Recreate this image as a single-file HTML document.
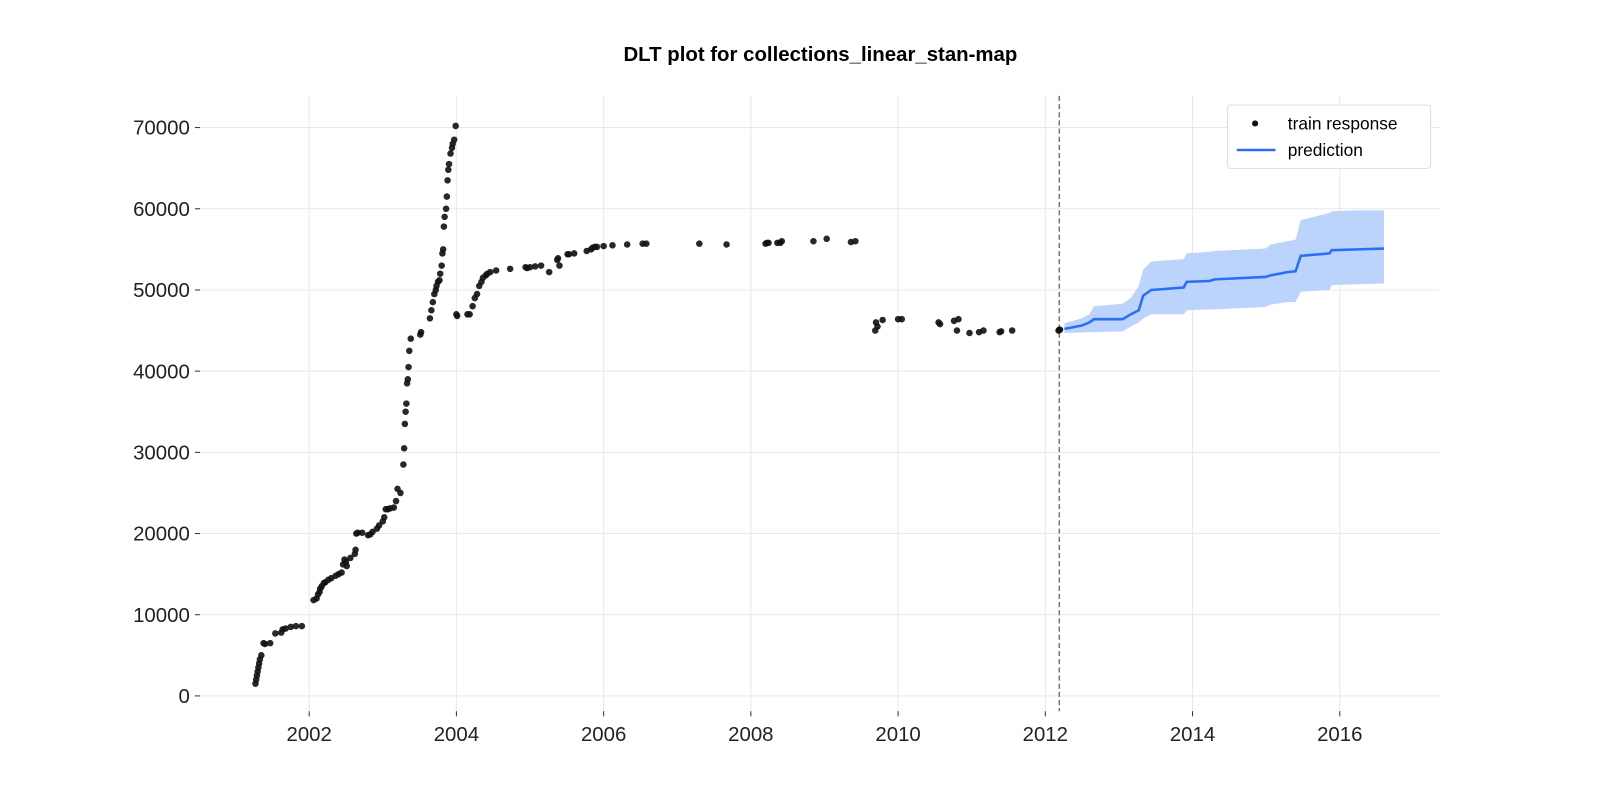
<!DOCTYPE html>
<html><head><meta charset="utf-8"><style>
html,body{margin:0;padding:0;background:#fff;width:1600px;height:800px;overflow:hidden;font-family:"Liberation Sans","DejaVu Sans",sans-serif}
svg{display:block}
</style></head><body>
<svg id="chart" width="1600" height="800" viewBox="0 0 1568 784" xmlns="http://www.w3.org/2000/svg" font-family="Liberation Sans, DejaVu Sans, sans-serif">
<text x="804" y="60" text-anchor="middle" font-size="20" font-weight="bold">DLT plot for collections_linear_stan-map</text>
<g id="grid"></g><g id="band"></g><g id="line"></g><g id="pts"></g><g id="axes"></g>
<g>
<rect x="1203" y="103" width="199" height="62" rx="3" fill="#fff" stroke="#ddd"/>
<circle cx="1230" cy="121" r="3" fill="#111"/>
<text x="1262" y="127" font-size="17">train response</text>
<line x1="1212" y1="147" x2="1250" y2="147" stroke="#2a6ef5" stroke-width="2.5"/>
<text x="1262" y="153" font-size="17">prediction</text>
</g>
</svg>
<script>
const trainYears=[
2001.27,2001.28,2001.29,2001.30,2001.31,2001.32,2001.33,2001.35,2001.38,2001.40,
2001.47,2001.54,2001.62,2001.64,2001.68,2001.75,2001.82,2001.90,2002.06,2002.10,
2002.12,2002.14,2002.15,2002.17,2002.20,2002.22,2002.26,2002.30,2002.36,2002.40,
2002.44,2002.46,2002.48,2002.50,2002.51,2002.56,2002.62,2002.63,2002.64,2002.66,
2002.72,2002.80,2002.83,2002.86,2002.92,2002.95,2003.00,2003.02,2003.04,2003.07,
2003.10,2003.15,2003.18,2003.20,2003.24,2003.28,2003.29,2003.30,2003.31,2003.32,
2003.33,2003.34,2003.35,2003.36,2003.38,2003.51,2003.52,2003.64,2003.66,2003.68,
2003.70,2003.72,2003.73,2003.75,2003.77,2003.78,2003.80,2003.81,2003.82,2003.83,
2003.84,2003.86,2003.87,2003.88,2003.89,2003.90,2003.92,2003.94,2003.95,2003.97,
2003.99,2004.00,2004.01,2004.15,2004.18,2004.22,2004.25,2004.28,2004.31,2004.34,
2004.36,2004.40,2004.42,2004.46,2004.54,2004.73,2004.94,2004.96,2005.00,2005.07,
2005.15,2005.26,2005.37,2005.38,2005.40,2005.51,2005.53,2005.60,2005.77,2005.83,
2005.85,2005.88,2005.91,2006.00,2006.12,2006.32,2006.53,2006.58,2007.30,2007.67,
2008.20,2008.22,2008.24,2008.36,2008.40,2008.42,2008.85,2009.03,2009.36,2009.42,
2009.69,2009.70,2009.72,2009.79,2010.00,2010.05,2010.55,2010.57,2010.76,2010.80,
2010.82,2010.97,2011.10,2011.16,2011.38,2011.40,2011.55,2012.18,2012.19,2012.20];
const trainValues=[
1500,2000,2500,3000,3500,4000,4500,5000,6500,6400,
6500,7700,7800,8200,8300,8500,8600,8600,11800,12000,
12500,12800,13200,13500,13900,14000,14300,14500,14800,15000,
15200,16200,16800,16500,16000,17000,17500,18000,20000,20100,
20100,19800,19900,20200,20600,21000,21500,22000,23000,23000,
23100,23200,24000,25500,25000,28500,30500,33500,35000,36000,
38500,39000,40500,42500,44000,44500,44800,46500,47500,48500,
49500,50000,50500,51000,51200,52000,53000,54500,55000,57800,
59000,60000,61500,63500,64800,65500,66800,67500,68000,68500,
70200,47000,46800,47000,47000,48000,49000,49500,50500,51000,
51500,51800,52000,52200,52400,52600,52800,52700,52800,52900,
53000,52200,53700,53900,53000,54400,54400,54500,54800,55000,
55200,55300,55300,55400,55500,55600,55700,55700,55700,55600,
55700,55800,55800,55800,55800,56000,56000,56300,55900,56000,
45000,46000,45500,46300,46400,46400,46000,45800,46200,45000,
46400,44700,44800,45000,44800,44900,45000,45000,45100,45100];
const predYears=[2012.26,2012.49,2012.60,2012.66,2013.05,2013.16,2013.27,2013.33,2013.44,2013.88,2013.92,2014.23,2014.30,2014.99,2015.06,2015.29,2015.40,2015.47,2015.86,2015.89,2016.24,2016.60];
const predValues=[45200,45600,46000,46400,46400,47000,47500,49300,50000,50300,51000,51100,51300,51600,51800,52200,52300,54200,54500,54900,55000,55100];
const predLower=[44700,44750,44800,44800,44900,45500,46000,46500,47000,47000,47500,47600,47600,47900,48200,48500,48500,49800,50000,50600,50700,50800];
const predUpper=[45900,46500,47000,48000,48300,49000,50500,52500,53500,53800,54500,54700,54800,55100,55600,56000,56200,58600,59500,59700,59800,59800];
const xTicks=[2002,2004,2006,2008,2010,2012,2014,2016];
const yTicks=[0,10000,20000,30000,40000,50000,60000,70000];
const cutoffYear=2012.19;
const NS="http://www.w3.org/2000/svg";
const X=y=>303+(y-2002)*72.14;
const Y=v=>682-v*0.007957;
function mk(tag,attrs,parent){const e=document.createElementNS(NS,tag);for(const k in attrs)e.setAttribute(k,attrs[k]);document.getElementById(parent).appendChild(e);return e;}
xTicks.forEach(t=>{
 const g=mk('line',{x1:X(t),x2:X(t),y1:94,y2:697,stroke:'#e8e8e8'},'grid');
 
 
 const tk=mk('line',{x1:X(t),x2:X(t),y1:697,y2:702,stroke:'#333'},'axes');
 
 
 const l=mk('text',{x:X(t),y:726,'text-anchor':'middle','font-size':20,fill:'#222'},'axes');
 l.textContent=t;
 
 
});
yTicks.forEach(t=>{
 const g=mk('line',{x1:196,x2:1411,y1:Y(t),y2:Y(t),stroke:'#e8e8e8'},'grid');
 
 
 const tk=mk('line',{x1:191,x2:196,y1:Y(t),y2:Y(t),stroke:'#333'},'axes');
 
 
 const l=mk('text',{x:186,y:Y(t)+7,'text-anchor':'end','font-size':20,fill:'#222'},'axes');
 l.textContent=t;
 
 
});
let d='';predYears.forEach((y,i)=>{d+=(i?'L':'M')+X(y)+','+Y(predUpper[i]);});
for(let i=predYears.length-1;i>=0;i--)d+='L'+X(predYears[i])+','+Y(predLower[i]);
const band=mk('path',{d:d+'Z',fill:'#bcd3fb'},'band');


const pl=mk('polyline',{points:predYears.map((y,i)=>X(y)+','+Y(predValues[i])).join(' '),fill:'none',stroke:'#2a6ef5','stroke-width':2.5},'line');


const cut=mk('line',{x1:X(cutoffYear),x2:X(cutoffYear),y1:94,y2:697,stroke:'#777','stroke-width':1.5,'stroke-dasharray':'5,3'},'line');


trainYears.forEach((y,i)=>{
 const c=mk('circle',{cx:X(y),cy:Y(trainValues[i]),r:3.2,fill:'#111','fill-opacity':0.9},'pts');
 
 
});
</script>
</body></html>
